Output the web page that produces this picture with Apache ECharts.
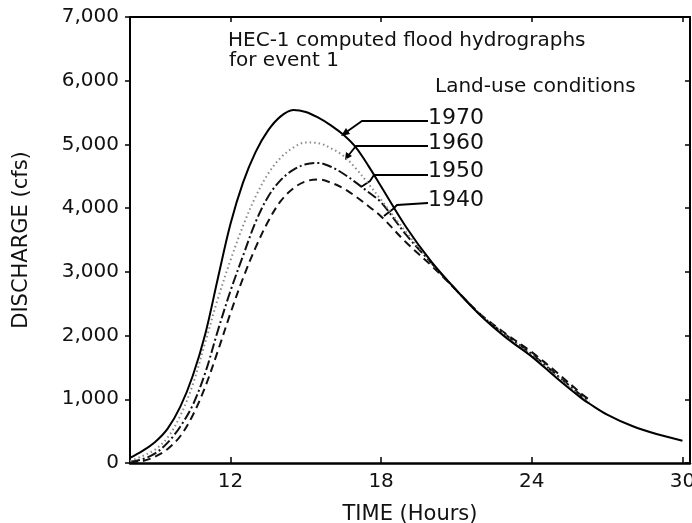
<!DOCTYPE html>
<html lang="en">
<head>
  <meta charset="UTF-8">
  <title>HEC-1 computed flood hydrographs</title>
  <style>
    * { margin: 0; padding: 0; }
    body { background: #fff; }
    #chart { width: 692px; height: 523px; }
  </style>
</head>
<body>
  <div id="chart"></div>
  <script src="https://cdn.jsdelivr.net/npm/echarts@6/dist/echarts.min.js"></script>
  <script>
    // time in hours
    const hours = [8, 8.5, 9, 9.5, 10, 10.5, 11, 11.5, 12, 12.5, 13, 13.5, 14, 14.5, 15, 15.5, 16, 16.5, 17, 17.5, 18, 19, 20, 21, 22, 23, 24, 25, 26, 26.3, 27, 28, 29, 30];

    // discharge (cfs) per land-use condition
    const q1970 = [80, 190, 330, 540, 880, 1370, 2030, 2900, 3750, 4400, 4880, 5220, 5440, 5540, 5510, 5420, 5300, 5150, 4950, 4660, 4340, 3700, 3160, 2710, 2300, 1960, 1670, 1330, 1010, 930, 760, 580, 450, 350];
    const q1960 = [30, 110, 210, 400, 740, 1230, 1900, 2580, 3180, 3720, 4180, 4540, 4790, 4950, 5030, 5020, 4940, 4820, 4620, 4380, 4130, 3620, 3150, 2710, 2310, 1990, 1690, 1360, 1030, 960, null, null, null, null];
    const q1950 = [20, 60, 150, 320, 570, 910, 1420, 2080, 2700, 3250, 3780, 4180, 4440, 4600, 4690, 4710, 4650, 4540, 4400, 4250, 4090, 3580, 3140, 2710, 2310, 2000, 1710, 1380, 1050, 970, null, null, null, null];
    const q1940 = [10, 30, 100, 220, 420, 750, 1200, 1760, 2350, 2900, 3380, 3790, 4110, 4310, 4420, 4450, 4400, 4310, 4180, 4030, 3870, 3460, 3100, 2710, 2320, 2020, 1740, 1420, 1080, 990, null, null, null, null];

    const xTicks = [12, 18, 24, 30];
    const years = ['1970', '1960', '1950', '1940'];

    const pairs = vals => hours.map((h, i) => [h, vals[i]]).filter(p => p[1] !== null);

    const FONT = 'DejaVu Sans';
    const chart = echarts.init(document.getElementById('chart'));

    const lineSeries = (name, vals, color, type) => ({
      name: name,
      type: 'line',
      xAxisIndex: 0,
      yAxisIndex: 0,
      data: pairs(vals),
      smooth: 0.35,
      showSymbol: false,
      silent: true,
      lineStyle: { color: color, width: 2, type: type }
    });

    chart.setOption({
      animation: false,
      backgroundColor: '#fff',
      grid: { left: 130, right: 2, top: 17, bottom: 60, outerBoundsMode: 'none', containLabel: false },
      xAxis: [
        {
          type: 'value', min: 8, max: 30.3, position: 'bottom',
          name: 'TIME (Hours)', nameLocation: 'middle', nameGap: 41,
          nameTextStyle: { fontFamily: FONT, fontSize: 21, color: '#111' },
          axisLine: { show: true, onZero: false, lineStyle: { color: '#000', width: 2.5 } },
          axisTick: { show: true, inside: true, length: 6, customValues: xTicks, lineStyle: { color: '#000', width: 1.5 } },
          axisLabel: { customValues: xTicks, margin: 9, fontFamily: FONT, fontSize: 20, color: '#111' },
          splitLine: { show: false }
        },
        {
          type: 'value', min: 8, max: 30.3, position: 'top',
          axisLine: { show: true, onZero: false, lineStyle: { color: '#000', width: 2 } },
          axisTick: { show: true, inside: true, length: 5, customValues: xTicks, lineStyle: { color: '#000', width: 1.5 } },
          axisLabel: { show: false },
          splitLine: { show: false }
        }
      ],
      yAxis: [
        {
          type: 'value', min: 0, max: 7000, interval: 1000, position: 'left',
          name: 'DISCHARGE (cfs)', nameLocation: 'middle', nameGap: 98, nameRotate: 90,
          nameTextStyle: { fontFamily: FONT, fontSize: 21, color: '#111' },
          axisLine: { show: true, onZero: false, lineStyle: { color: '#000', width: 2 } },
          axisTick: { show: true, inside: false, length: 5, lineStyle: { color: '#000', width: 1.5 } },
          axisLabel: {
            margin: 11, fontFamily: FONT, fontSize: 20, color: '#111',
            formatter: v => v.toLocaleString('en-US')
          },
          splitLine: { show: false }
        },
        {
          type: 'value', min: 0, max: 7000, interval: 1000, position: 'right',
          axisLine: { show: true, onZero: false, lineStyle: { color: '#000', width: 2 } },
          axisTick: { show: true, inside: true, length: 5, lineStyle: { color: '#000', width: 1.5 } },
          axisLabel: { show: false },
          splitLine: { show: false }
        }
      ],
      series: [
        lineSeries(years[3], q1940, '#111', [8, 5]),
        lineSeries(years[2], q1950, '#111', [10, 3, 2, 3]),
        lineSeries(years[1], q1960, '#8a8a8a', [1.5, 3]),
        lineSeries(years[0], q1970, '#000', 'solid')
      ],
      graphic: [
        { type: 'text', left: 228, top: 31, style: { text: 'HEC-1 computed flood hydrographs', font: '20px "DejaVu Sans"', fill: '#111' } },
        { type: 'text', left: 229, top: 51, style: { text: 'for event 1', font: '20px "DejaVu Sans"', fill: '#111' } },
        { type: 'text', left: 435, top: 77, style: { text: 'Land-use conditions', font: '20px "DejaVu Sans"', fill: '#111' } },
        { type: 'text', left: 428, top: 107, style: { text: years[0], font: '22px "DejaVu Sans"', fill: '#111' } },
        { type: 'text', left: 428, top: 132, style: { text: years[1], font: '22px "DejaVu Sans"', fill: '#111' } },
        { type: 'text', left: 428, top: 160, style: { text: years[2], font: '22px "DejaVu Sans"', fill: '#111' } },
        { type: 'text', left: 428, top: 189, style: { text: years[3], font: '22px "DejaVu Sans"', fill: '#111' } },
        // leader lines
        { type: 'polyline', shape: { points: [[428, 121], [362, 121], [345, 133]] }, style: { stroke: '#000', lineWidth: 1.8, fill: null } },
        { type: 'polygon', shape: { points: [[341, 136], [350, 134], [346, 128]] }, style: { fill: '#000' } },
        { type: 'polyline', shape: { points: [[428, 146], [356, 146], [348, 156]] }, style: { stroke: '#000', lineWidth: 1.8, fill: null } },
        { type: 'polygon', shape: { points: [[345, 160], [352, 156], [346, 152]] }, style: { fill: '#000' } },
        { type: 'polyline', shape: { points: [[428, 175], [374, 175], [370, 181], [361, 187]] }, style: { stroke: '#000', lineWidth: 1.8, fill: null } },
        { type: 'polyline', shape: { points: [[428, 203], [397, 205], [393, 209], [384, 216]] }, style: { stroke: '#000', lineWidth: 1.8, fill: null } }
      ]
    });
  </script>
</body>
</html>
